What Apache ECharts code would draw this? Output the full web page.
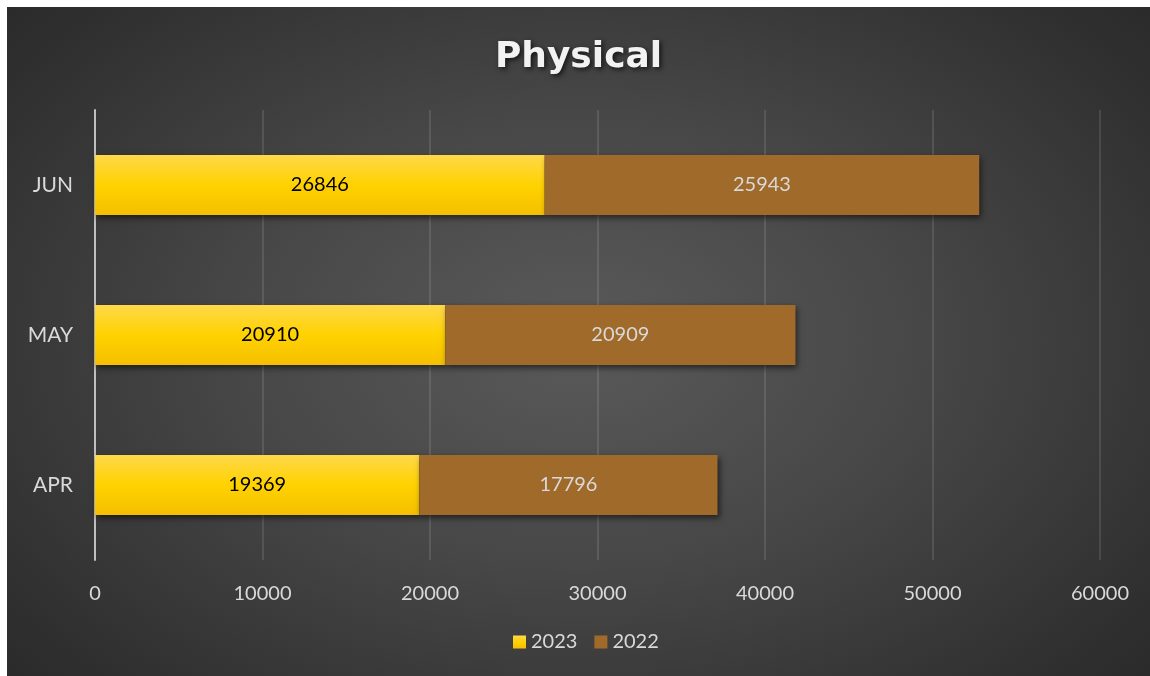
<!DOCTYPE html>
<html>
<head>
<meta charset="utf-8">
<script src="https://cdn.jsdelivr.net/npm/echarts@6/dist/echarts.min.js"></script>
<style>
html,body{margin:0;padding:0;background:#fff;width:1150px;height:676px;overflow:hidden;}
#bg{position:absolute;left:7px;top:7px;width:1143px;height:669px;
background:radial-gradient(ellipse 75% 85% at 50% 50%, #5a5a5a 0%, #474747 40%, #2f2f2f 80%, #262626 100%);}
#main{position:absolute;left:0;top:0;width:1143px;height:669px;}
</style>
</head>
<body>
<div id="bg"><div id="main"></div></div>
<script>
const categories = ['APR', 'MAY', 'JUN'];
const series2023 = [19369, 20910, 26846];
const series2022 = [17796, 20909, 25943];
const xTicks = [0, 10000, 20000, 30000, 40000, 50000, 60000];

const chart = echarts.init(document.getElementById('main'), null, {renderer: 'canvas'});
const font = 'Lato, "Open Sans", sans-serif';
const shadow = {shadowColor: 'rgba(0,0,0,0.55)', shadowBlur: 6, shadowOffsetX: 2, shadowOffsetY: 3};
chart.setOption({
  backgroundColor: 'transparent',
  animation: false,
  title: {
    text: 'Physical', left: 'center', top: 28,
    textStyle: {color: '#f2f2f2', fontSize: 36, fontWeight: 'bold', fontFamily: '"DejaVu Sans", sans-serif',
      textShadowColor: 'rgba(0,0,0,0.7)', textShadowBlur: 5, textShadowOffsetX: 2, textShadowOffsetY: 2}
  },
  legend: {
    bottom: 19, left: 501, itemWidth: 13, itemHeight: 13, itemGap: 17,
    icon: 'rect',
    textStyle: {color: '#d9d9d9', fontSize: 20, fontFamily: font, padding: [0,0,0,0]},
    data: ['2023', '2022']
  },
  grid: {left: 88, right: 50, top: 103, bottom: 116, containLabel: false},
  xAxis: {
    type: 'value', min: xTicks[0], max: xTicks[xTicks.length-1], interval: 10000,
    axisLine: {show: false}, axisTick: {show: false},
    splitLine: {show: true, lineStyle: {color: 'rgba(255,255,255,0.11)', width: 2}},
    axisLabel: {color: '#d9d9d9', fontSize: 20, fontFamily: font, margin: 24, formatter: v => String(v)}
  },
  yAxis: {
    type: 'category', data: categories,
    axisLine: {show: true, lineStyle: {color: '#bfbfbf', width: 2}},
    axisTick: {show: false},
    axisLabel: {color: '#d9d9d9', fontSize: 21, fontFamily: font, margin: 22}
  },
  series: [
    {
      name: '2023', type: 'bar', stack: 'a', data: series2023, barWidth: '40%',
      itemStyle: Object.assign({
        color: new echarts.graphic.LinearGradient(0,0,0,1,[
          {offset: 0, color: '#ffd84a'}, {offset: 0.5, color: '#ffd200'}, {offset: 1, color: '#f5bf00'}])
      }, shadow),
      label: {show: true, position: 'inside', color: '#000', fontSize: 20, fontFamily: font}
    },
    {
      name: '2022', type: 'bar', stack: 'a', data: series2022, barWidth: '40%',
      itemStyle: Object.assign({color: '#a06a2a'}, shadow),
      label: {show: true, position: 'inside', color: '#d9d9d9', fontSize: 20, fontFamily: font}
    }
  ]
});
</script>
</body>
</html>
